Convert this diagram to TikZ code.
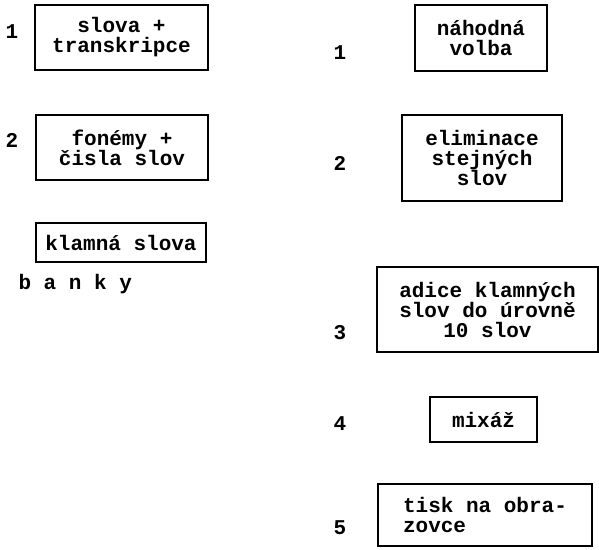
\documentclass[tikz,border=0pt]{standalone}
\usepackage{fontspec}
\setmonofont{Liberation Mono}
\usepackage{tikz}

\tikzset{
	krok/.style={draw, line width=1.2pt, align=center, inner sep=0pt,
		font=\ttfamily\bfseries\fontsize{21}{20}\selectfont},
	cislo/.style={font=\ttfamily\bfseries\fontsize{21}{20}\selectfont}
}

\begin{document}
\begin{tikzpicture}[x=1pt,y=-1pt]
		\useasboundingbox (0,0) rectangle (599,549);
		% levy sloupec: banky
		\node[krok, minimum width=173, minimum height=65] (slova) at (121.5,37.5) {slova +\\transkripce};
		\node[krok, minimum width=172, minimum height=65] (fonemy) at (122,147.5) {fonémy +\\čisla slov};
		\node[krok, minimum width=170, minimum height=39] (klamna) at (121,242.5) {klamná slova};
		\node[cislo, anchor=west] (banky) at (15,284) {b a n k y};
		\foreach \n/\y in {1/32,2/140} % cisla vlevo
		\node[cislo] (l\n) at (12,\y) {\n};
		% pravy sloupec: postup
		\node[krok, minimum width=132, minimum height=66] (volba) at (481,38) {náhodná\\volba};
		\node[krok, minimum width=160, minimum height=86] (elim) at (482,158) {eliminace\\stejných\\slov};
		\node[krok, minimum width=221, minimum height=85] (adice) at (487.5,309.5) {adice klamných\\slov do úrovně\\10 slov};
		\node[krok, minimum width=107, minimum height=45] (mixaz) at (483.5,419.5) {mixáž};
		\node[krok, align=left, minimum width=214, minimum height=62] (tisk) at (485,515) {tisk na obra-\\zovce};
		\foreach \n/\y in {1/53,2/163,3/333,4/424,5/528} % cisla vpravo
		\node[cislo] (r\n) at (340,\y) {\n};
	\end{tikzpicture}
\end{document}
